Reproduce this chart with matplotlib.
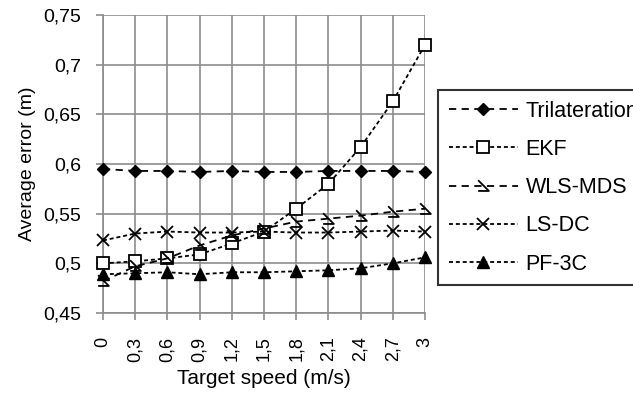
import matplotlib
matplotlib.use("Agg")
from matplotlib import pyplot as plt
from matplotlib.path import Path
from matplotlib.ticker import FuncFormatter

plt.rcParams['font.family'] = ['Liberation Sans', 'DejaVu Sans']

speeds = ["0", "0,3", "0,6", "0,9", "1,2", "1,5", "1,8", "2,1", "2,4", "2,7", "3"]
trilateration = [0.595, 0.593, 0.593, 0.592, 0.593, 0.592, 0.592, 0.593, 0.593, 0.593, 0.592]
ekf = [0.500, 0.502, 0.505, 0.509, 0.520, 0.532, 0.555, 0.580, 0.617, 0.663, 0.720]
wls_mds = [0.482, 0.497, 0.505, 0.518, 0.528, 0.535, 0.542, 0.545, 0.548, 0.552, 0.555]
ls_dc = [0.523, 0.530, 0.532, 0.531, 0.531, 0.532, 0.531, 0.531, 0.532, 0.533, 0.532]
pf_3c = [0.489, 0.490, 0.491, 0.489, 0.491, 0.491, 0.492, 0.493, 0.495, 0.500, 0.506]

# odd open triangle marker used for WLS-MDS
wls_marker = Path([(-0.6, 0.7), (0.6, -0.5), (-0.6, -0.5)],
                  [Path.MOVETO, Path.LINETO, Path.LINETO])

fig = plt.figure(figsize=(6.33, 3.98), dpi=100)
ax = fig.add_axes([103/633, 1-313/398, 322/633, 298/398])

x = list(range(len(speeds)))
long_dash = (0, (4, 3))
short_dash = (0, (2.2, 1.6))

ax.plot(x, trilateration, color='black', lw=1.3, ls=long_dash, marker='D',
        ms=6.5, mfc='black', mec='black', label='Trilateration', clip_on=False, zorder=5)
ax.plot(x, ekf, color='black', lw=1.3, ls=short_dash, marker='s',
        ms=8.5, mfc='white', mec='black', mew=1.3, label='EKF', clip_on=False, zorder=5)
ax.plot(x, wls_mds, color='black', lw=1.3, ls=long_dash, marker=wls_marker,
        ms=9, mfc='none', mec='black', mew=1.3, label='WLS-MDS', clip_on=False, zorder=5)
ax.plot(x, ls_dc, color='black', lw=1.3, ls=short_dash, marker='x',
        ms=8, mec='black', mew=1.3, label='LS-DC', clip_on=False, zorder=5)
ax.plot(x, pf_3c, color='black', lw=1.3, ls=short_dash, marker='^',
        ms=8, mfc='black', mec='black', label='PF-3C', clip_on=False, zorder=5)

ax.set_xlim(0, len(speeds) - 1)
ax.set_ylim(0.45, 0.75)
ax.set_xticks(x)
ax.set_xticklabels(speeds, rotation=90, fontsize=13)
ax.set_yticks([0.45, 0.5, 0.55, 0.6, 0.65, 0.7, 0.75])
ax.yaxis.set_major_formatter(FuncFormatter(lambda v, p: ('%g' % round(v, 2)).replace('.', ',')))
ax.tick_params(axis='y', labelsize=14, length=5, color='#8c8c8c', width=1.2, pad=11)
ax.tick_params(axis='x', length=5, color='#8c8c8c', width=1.2, pad=12)

ax.grid(True, color='#8c8c8c', lw=1.2)
ax.set_axisbelow(True)
for s in ['top', 'right']:
    ax.spines[s].set_visible(False)
for s in ['left', 'bottom']:
    ax.spines[s].set_color('#8c8c8c')
    ax.spines[s].set_linewidth(1.2)

ax.set_ylabel('Average error (m)', fontsize=14, labelpad=5)
ax.set_xlabel('Target speed (m/s)', fontsize=15, labelpad=5)

leg = fig.legend(loc='upper left', bbox_to_anchor=(438/633, 1-90/398), borderaxespad=0,
                 fontsize=15.5, frameon=True, fancybox=False, edgecolor='black',
                 handlelength=3.2, handletextpad=0.37, labelspacing=0.8, borderpad=0.5)
leg.get_frame().set_linewidth(1.5)

fig.savefig('out.png', dpi=100)
